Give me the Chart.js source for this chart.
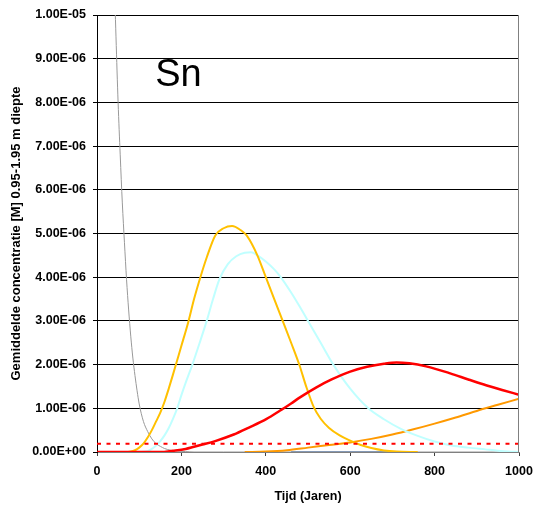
<!DOCTYPE html>
<html>
<head>
<meta charset="utf-8">
<script src="https://cdn.jsdelivr.net/npm/chart.js@4.4.1/dist/chart.umd.min.js"></script>
<style>
  html, body { margin: 0; padding: 0; background: #fff; }
  #wrap { width: 533px; height: 505px; position: relative; }
</style>
</head>
<body>
<div id="wrap"><canvas id="sn"></canvas></div>
<script>
// Sn concentration, 0.95-1.95 m depth, per year (mol/l)
const xTicks = [0, 200, 400, 600, 800, 1000];
const yTicks = [0, 1e-6, 2e-6, 3e-6, 4e-6, 5e-6, 6e-6, 7e-6, 8e-6, 9e-6, 1e-5];

const grayYears = [35, 40, 45, 50, 55, 60, 65, 70, 75, 80, 85, 90, 95, 100, 110, 120, 130, 140, 150, 160, 175, 190, 210, 230, 300, 1000];
const gray = [13.5e-6, 11.2e-6, 9.5e-6, 8.0e-6, 6.8e-6, 5.7e-6, 4.8e-6, 3.95e-6, 3.25e-6, 2.65e-6, 2.15e-6, 1.75e-6, 1.4e-6, 1.1e-6,
  0.7e-6, 0.47e-6, 0.3e-6, 0.19e-6, 0.13e-6, 0.08e-6, 0.04e-6, 0.02e-6, 0.01e-6, 0, 0, 0];

const goldYears = [70, 80, 90, 100, 110, 120, 130, 140, 150, 160, 170, 180, 190, 200, 217, 230, 245, 260, 280, 300, 320, 340, 355,
  380, 400, 420, 440, 460, 480, 495, 514, 530, 550, 575, 600, 625, 650, 680, 710, 760];
const gold = [0, 0.01e-6, 0.04e-6, 0.1e-6, 0.19e-6, 0.33e-6, 0.5e-6, 0.7e-6, 0.9e-6, 1.15e-6, 1.45e-6, 1.77e-6, 2.1e-6, 2.43e-6,
  3.0e-6, 3.5e-6, 4.0e-6, 4.45e-6, 4.95e-6, 5.12e-6, 5.17e-6, 5.08e-6, 4.95e-6, 4.5e-6, 4.0e-6, 3.5e-6, 3.0e-6, 2.5e-6, 1.98e-6,
  1.52e-6, 1.02e-6, 0.76e-6, 0.55e-6, 0.38e-6, 0.26e-6, 0.16e-6, 0.09e-6, 0.035e-6, 0.01e-6, 0];

const cyanYears = [105, 120, 130, 140, 150, 160, 170, 180, 190, 200, 210, 226, 245, 260, 275, 290, 310, 330, 350, 365, 380, 400,
  420, 434, 460, 482, 497, 530, 560, 600, 643, 680, 720, 760, 800, 840, 880, 920, 950, 975, 1000];
const cyan = [0, 0.02e-6, 0.07e-6, 0.15e-6, 0.25e-6, 0.38e-6, 0.55e-6, 0.76e-6, 1.0e-6, 1.3e-6, 1.58e-6, 2.0e-6, 2.55e-6, 3.0e-6,
  3.5e-6, 3.95e-6, 4.3e-6, 4.48e-6, 4.56e-6, 4.57e-6, 4.5e-6, 4.36e-6, 4.18e-6, 4.02e-6, 3.65e-6, 3.3e-6, 3.05e-6, 2.5e-6, 2.0e-6,
  1.45e-6, 1.0e-6, 0.75e-6, 0.53e-6, 0.37e-6, 0.24e-6, 0.15e-6, 0.1e-6, 0.06e-6, 0.03e-6, 0.01e-6, 0];

const redYears = [0, 150, 180, 210, 230, 250, 280, 324, 360, 402, 434, 460, 481, 520, 556, 600, 640, 680, 710, 740, 780, 837, 880,
  915, 960, 1000];
const red = [0, 0, 0.03e-6, 0.07e-6, 0.12e-6, 0.17e-6, 0.25e-6, 0.4e-6, 0.56e-6, 0.76e-6, 0.95e-6, 1.11e-6, 1.25e-6, 1.48e-6,
  1.66e-6, 1.84e-6, 1.95e-6, 2.02e-6, 2.05e-6, 2.03e-6, 1.96e-6, 1.8e-6, 1.66e-6, 1.55e-6, 1.42e-6, 1.31e-6];

const orangeYears = [350, 400, 450, 500, 550, 600, 650, 700, 750, 800, 850, 900, 950, 1000];
const orange = [0, 0.01e-6, 0.04e-6, 0.1e-6, 0.16e-6, 0.22e-6, 0.3e-6, 0.4e-6, 0.52e-6, 0.65e-6, 0.79e-6, 0.94e-6, 1.08e-6, 1.22e-6];

const blueYears = [460, 700];
const blue = [0, 0];

const limitYears = [0, 1000];
const limit = [0.19e-6, 0.19e-6];

const FONT = 'Arial, "Liberation Sans", sans-serif';

function pts(xs, ys) {
  return xs.map((x, i) => ({ x, y: ys[i] }));
}

function sci(v) {
  if (v === 0) return '0.00E+00';
  const [m, e] = v.toExponential(2).split('e');
  const n = Number(e);
  return m + 'E' + (n < 0 ? '-' : '+') + String(Math.abs(n)).padStart(2, '0');
}

function line(data, color, width, extra) {
  return Object.assign({
    data,
    borderColor: color,
    borderWidth: width,
    pointRadius: 0,
    fill: false,
    cubicInterpolationMode: 'monotone',
  }, extra || {});
}

// element label and the grey right edge of the plot frame
const decorations = {
  id: 'decorations',
  afterDraw(chart) {
    const { ctx, chartArea, scales } = chart;
    ctx.save();
    ctx.strokeStyle = '#808080';
    ctx.lineWidth = 1;
    ctx.beginPath();
    ctx.moveTo(Math.round(chartArea.right) - 0.5, chartArea.top);
    ctx.lineTo(Math.round(chartArea.right) - 0.5, chartArea.bottom);
    ctx.stroke();
    ctx.fillStyle = '#000';
    ctx.font = '38px ' + FONT;
    ctx.textBaseline = 'alphabetic';
    ctx.fillText('Sn', scales.x.getPixelForValue(138), scales.y.getPixelForValue(8.37e-6));
    ctx.restore();
  },
};

new Chart(document.getElementById('sn'), {
  type: 'line',
  data: {
    datasets: [
      line(pts(redYears, red), '#ff0000', 2.5),
      line(pts(limitYears, limit), '#ff0000', 2, { borderDash: [4, 5.5], cubicInterpolationMode: 'default' }),
      line(pts(goldYears, gold), '#ffc000', 2),
      line(pts(cyanYears, cyan), '#c0ffff', 2),
      line(pts(orangeYears, orange), '#ff9900', 2),
      line(pts(grayYears, gray), '#999999', 1),
      line(pts(blueYears, blue), '#7098d0', 2),
    ],
  },
  plugins: [decorations],
  options: {
    responsive: true,
    maintainAspectRatio: false,
    animation: false,
    layout: { padding: { top: 15, right: 14, bottom: 0, left: 0 } },
    plugins: { legend: { display: false }, tooltip: { enabled: false } },
    scales: {
      x: {
        type: 'linear',
        min: 0,
        max: 1000,
        afterBuildTicks(scale) { scale.ticks = xTicks.map((value) => ({ value })); },
        afterFit(scale) { scale.height = 53; scale.paddingRight = 0; scale.paddingLeft = 0; },
        ticks: { color: '#000', font: { family: FONT, size: 12.5, weight: 'bold' }, padding: 8, maxRotation: 0, callback: (v) => String(v) },
        grid: { drawOnChartArea: false, drawTicks: true, tickLength: 4, tickColor: '#404040' },
        border: { color: '#808080', width: 1 },
        title: { display: true, text: 'Tijd (Jaren)', color: '#000', font: { family: FONT, size: 12.5, weight: 'bold' }, padding: { top: 0, bottom: 1 } },
      },
      y: {
        type: 'linear',
        min: 0,
        max: 1e-5,
        afterBuildTicks(scale) { scale.ticks = yTicks.map((value) => ({ value })); },
        afterFit(scale) { scale.width = 97; scale.paddingTop = 0; scale.paddingBottom = 0; },
        ticks: { color: '#000', font: { family: FONT, size: 12.5, weight: 'bold' }, padding: 7, callback: (v) => sci(v) },
        grid: {
          color: (c) => (c.tick && c.tick.value === 0 ? '#808080' : '#000'),
          lineWidth: 1,
          tickLength: 4,
          tickColor: '#000',
        },
        border: { color: '#000', width: 1 },
        title: { display: true, text: 'Gemiddelde concentratie [M] 0.95-1.95 m diepte', color: '#000', font: { family: FONT, size: 13, weight: 'bold' }, padding: { top: 9, bottom: 0 } },
      },
    },
  },
});
</script>
</body>
</html>
